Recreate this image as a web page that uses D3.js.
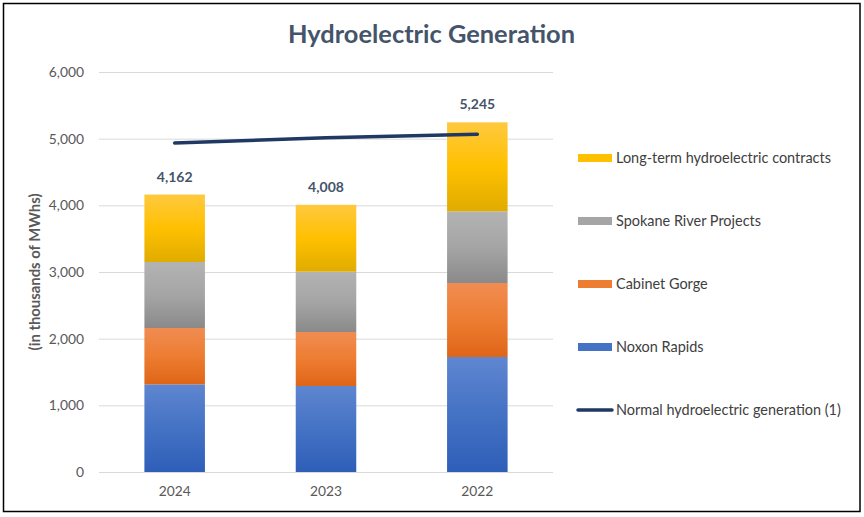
<!DOCTYPE html>
<html>
<head>
<meta charset="utf-8">
<script src="https://cdn.jsdelivr.net/npm/d3@7"></script>
<style>
  html, body { margin: 0; padding: 0; background: #fff; }
  svg { display: block; font-family: Lato, "Open Sans", "DejaVu Sans", sans-serif; }
</style>
</head>
<body>
<svg id="chart" width="864" height="517"></svg>
<script>
// ---- data ----
const years = ["2024", "2023", "2022"];
const noxonRapids = [1315, 1290, 1725];
const cabinetGorge = [845, 810, 1110];
const spokaneRiver = [990, 905, 1075];
const longTermContracts = [1012, 1003, 1335];
const normalGeneration = [4935, 5015, 5065];
const yTicks = [0, 1000, 2000, 3000, 4000, 5000, 6000];
const seriesNames = ["Noxon Rapids", "Cabinet Gorge", "Spokane River Projects", "Long-term hydroelectric contracts"];
const lineName = "Normal hydroelectric generation (1)";
const titleText = "Hydroelectric Generation";
const yAxisTitle = "(in thousands of MWhs)";

// ---- styling ----
const palette = [
  { top: "#5F86D0", mid: "#4472C4", bot: "#2E5EB8" },
  { top: "#F08C52", mid: "#ED7D31", bot: "#DF6518" },
  { top: "#B3B3B3", mid: "#A5A5A5", bot: "#8A8A8A" },
  { top: "#FFC93F", mid: "#FFC000", bot: "#E0AC00" }
];
const lineColor = "#203864";

// scale a text's font-size so its rendered width matches a target width
function fitText(sel, target) {
  const node = sel.node();
  const fs = parseFloat(sel.attr("font-size"));
  const w = node.getComputedTextLength();
  if (w > 0) sel.attr("font-size", (fs * target / w).toFixed(2));
  return parseFloat(sel.attr("font-size"));
}

const svg = d3.select("#chart");
const plot = { left: 99, right: 553, top: 72, bottom: 472 };

// gradients
const defs = svg.append("defs");
palette.forEach((p, i) => {
  const g = defs.append("linearGradient").attr("id", "grad" + i)
    .attr("x1", 0).attr("y1", 0).attr("x2", 0).attr("y2", 1);
  g.append("stop").attr("offset", "0%").attr("stop-color", p.top);
  g.append("stop").attr("offset", "50%").attr("stop-color", p.mid);
  g.append("stop").attr("offset", "100%").attr("stop-color", p.bot);
});

// frame
svg.append("rect").attr("x", 3.5).attr("y", 3.5).attr("width", 856.5).attr("height", 508)
  .attr("fill", "#fff").attr("stroke", "#000").attr("stroke-width", 1.5);

// scales
const x = d3.scaleBand().domain(years).range([plot.left, plot.right]).paddingInner(0.6).paddingOuter(0.3);
const y = d3.scaleLinear().domain([0, 6000]).range([plot.bottom, plot.top]);

// gridlines
svg.append("g").selectAll("line").data(yTicks).join("line")
  .attr("x1", plot.left).attr("x2", plot.right)
  .attr("y1", d => y(d) + 0.5).attr("y2", d => y(d) + 0.5)
  .attr("stroke", "#D9D9D9").attr("stroke-width", 1);

// y axis labels
const yAxis = d3.axisLeft(y).tickValues(yTicks).tickFormat(d3.format(",")).tickSize(0).tickPadding(0);
const yg = svg.append("g").attr("transform", `translate(${plot.left - 15},0)`).call(yAxis);
yg.select(".domain").remove();
yg.selectAll("text").attr("font-size", 13.8).attr("fill", "#595959").attr("font-family", "Lato, sans-serif");

// x axis labels
const xAxis = d3.axisBottom(x).tickSize(0).tickPadding(0);
const xg = svg.append("g").attr("transform", `translate(0,${plot.bottom + 14})`).call(xAxis);
xg.select(".domain").remove();
xg.selectAll("text").attr("font-size", 13.8).attr("fill", "#595959").attr("font-family", "Lato, sans-serif");

// stacked data
const table = years.map((yr, i) => ({
  year: yr,
  s0: noxonRapids[i], s1: cabinetGorge[i], s2: spokaneRiver[i], s3: longTermContracts[i]
}));
const stack = d3.stack().keys(["s0", "s1", "s2", "s3"]);
const stacked = stack(table);

svg.append("g").selectAll("g").data(stacked).join("g")
  .attr("fill", (d, i) => `url(#grad${i})`)
  .selectAll("rect").data(d => d).join("rect")
  .attr("x", d => x(d.data.year))
  .attr("width", x.bandwidth())
  .attr("y", d => y(d[1]))
  .attr("height", d => y(d[0]) - y(d[1]));

// total labels
svg.append("g").selectAll("text").data(table).join("text")
  .attr("x", d => x(d.year) + x.bandwidth() / 2)
  .attr("y", d => y(d.s0 + d.s1 + d.s2 + d.s3) - 13)
  .attr("text-anchor", "middle")
  .attr("font-size", 14).attr("font-weight", "bold").attr("fill", "#44546A")
  .text(d => d3.format(",")(d.s0 + d.s1 + d.s2 + d.s3));

// line
const line = d3.line().x((d, i) => x(years[i]) + x.bandwidth() / 2).y(d => y(d));
svg.append("path").datum(normalGeneration)
  .attr("d", line).attr("fill", "none")
  .attr("stroke", lineColor).attr("stroke-width", 3.5).attr("stroke-linecap", "round");

// title
const title = svg.append("text").attr("x", 431.5).attr("y", 43).attr("text-anchor", "middle")
  .attr("font-size", 25).attr("font-weight", "bold").attr("fill", "#44546A")
  .text(titleText);
fitText(title, 287);

// y axis title
const yt = svg.append("text").attr("transform", `translate(40,${(plot.top + plot.bottom) / 2}) rotate(-90)`)
  .attr("text-anchor", "middle").attr("font-size", 13.5).attr("font-weight", "bold").attr("fill", "#595959")
  .text(yAxisTitle);
fitText(yt, 157);

// legend
const legendY = [158, 221, 284, 347, 410];
const legendItems = [
  { name: seriesNames[3], idx: 3 },
  { name: seriesNames[2], idx: 2 },
  { name: seriesNames[1], idx: 1 },
  { name: seriesNames[0], idx: 0 },
  { name: lineName, idx: -1 }
];
const lg = svg.append("g").selectAll("g").data(legendItems).join("g")
  .attr("transform", (d, i) => `translate(578,${legendY[i]})`);
lg.filter(d => d.idx >= 0).append("rect")
  .attr("x", 0).attr("y", -4).attr("width", 34).attr("height", 8)
  .attr("fill", d => palette[d.idx].mid);
lg.filter(d => d.idx < 0).append("line")
  .attr("x1", 0).attr("x2", 34).attr("y1", 0).attr("y2", 0)
  .attr("stroke", lineColor).attr("stroke-width", 3.5).attr("stroke-linecap", "round");
const lt = lg.append("text").attr("x", 38).attr("y", 0).attr("dy", "0.35em")
  .attr("font-size", 13.5).attr("fill", "#404040")
  .text(d => d.name);
const legendSize = fitText(d3.select(lt.nodes()[0]), 215);
lt.attr("font-size", legendSize);
</script>
</body>
</html>
